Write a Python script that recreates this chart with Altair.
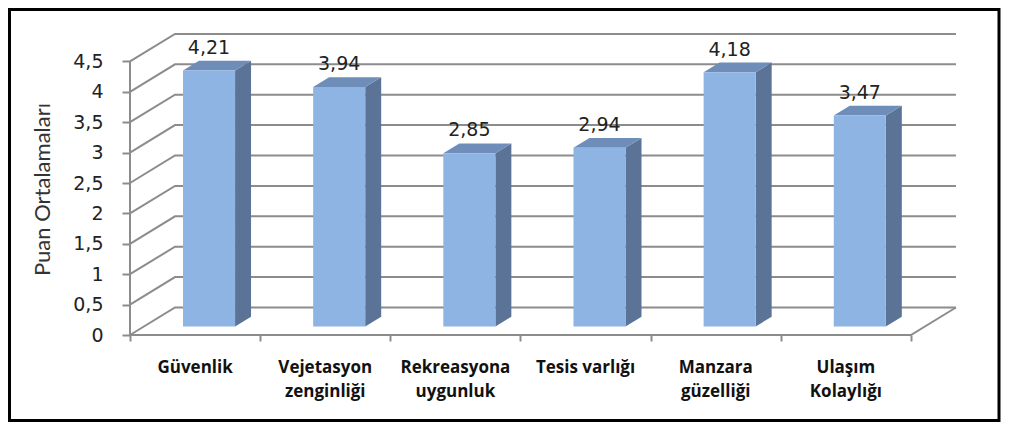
import altair as alt
import pandas as pd

# ---------------- data ----------------
CATEGORIES = ["Güvenlik", "Vejetasyon zenginliği", "Rekreasyona uygunluk",
              "Tesis varlığı", "Manzara güzelliği", "Ulaşım Kolaylığı"]
CATEGORY_LABELS = ["Güvenlik", "Vejetasyon\nzenginliği", "Rekreasyona\nuygunluk",
                   "Tesis varlığı", "Manzara\ngüzelliği", "Ulaşım\nKolaylığı"]
VALUES = [4.21, 3.94, 2.85, 2.94, 4.18, 3.47]
Y_TICKS = [0, 0.5, 1, 1.5, 2, 2.5, 3, 3.5, 4, 4.5]
Y_TITLE = "Puan Ortalamaları"

# ---------------- geometry (style) ----------------
W, H = 833, 304
X_MAX, Y_MAX = 6.4, 5.0
PX_X = W / X_MAX
PX_Y = H / Y_MAX
DX = 45 / PX_X          # depth shift in x units
DY = 27.5 / PX_Y        # depth shift in y units
F1, F2 = 0.31, 0.665    # bar front / back depth fractions
BAR_W = 0.4
N = len(CATEGORIES)
Y_TOP = max(Y_TICKS)

FRONT = "#8EB4E3"
TOP = "#6F8DB9"
SIDE = "#5A7397"
GRID = "#8C8C8C"

xs = alt.Scale(domain=[0, X_MAX], nice=False, zero=False)
ys = alt.Scale(domain=[0, Y_MAX], nice=False, zero=False)

XAX = alt.Axis(values=list(range(N + 1)), labels=False, ticks=True, tickSize=6,
               tickWidth=2, tickColor=GRID, domain=False, grid=False, title=None)
YAX = alt.Axis(values=Y_TICKS, tickSize=8, tickWidth=2, tickColor=GRID, domain=False,
               grid=False,
               labelExpr="replace(format(datum.value, '.1~f'), '.', ',')",
               labelFont="DejaVu Sans", labelFontSize=19, labelColor="#222222",
               labelPadding=19,
               title=Y_TITLE, titleFont="Lato", titleFontSize=22,
               titleFontWeight="normal", titleColor="#333333", titleAngle=270,
               titleAlign="center", titleBaseline="alphabetic",
               titleX=-81, titleY=158)

# ---------------- wall / floor lines ----------------
rows = []
for t in Y_TICKS:
    pts = [(0, t), (DX, t + DY), (N + DX, t + DY)]
    for k, (x, y) in enumerate(pts):
        rows.append({"seg": f"g{t}", "o": k, "px": x, "py": y})
for k, (x, y) in enumerate([(0, 0), (N, 0), (N + DX, DY)]):
    rows.append({"seg": "floor", "o": k, "px": x, "py": y})
for k, (x, y) in enumerate([(0, 0), (0, Y_TOP)]):
    rows.append({"seg": "yaxis", "o": k, "px": x, "py": y})
lines_df = pd.DataFrame(rows)

lines = alt.Chart(lines_df).mark_line(color=GRID, strokeWidth=2).encode(
    x=alt.X("px:Q", scale=xs, axis=XAX),
    y=alt.Y("py:Q", scale=ys, axis=YAX),
    detail="seg:N",
    order="o:Q",
)

# ---------------- bars ----------------
bars = pd.DataFrame({"name": CATEGORIES, "v": VALUES, "i": range(N)})
bars["xl"] = bars["i"] + 0.5 - BAR_W / 2 + F1 * DX
bars["xr"] = bars["xl"] + BAR_W
bars["yb"] = F1 * DY
bars["yt"] = bars["v"] + F1 * DY
bars["xc"] = bars["i"] + 0.5 + F1 * DX
bars["yl"] = bars["v"] + F2 * DY
bars["lbl"] = [f"{v:.2f}".replace(".", ",") for v in VALUES]

dd_x = (F2 - F1) * DX
dd_y = (F2 - F1) * DY

side_rows, top_rows = [], []
for r in bars.to_dict("records"):
    side_rows.append({"name": r["name"], "sx": r["xr"], "sy": r["yt"], "sy0": r["yb"]})
    side_rows.append({"name": r["name"], "sx": r["xr"] + dd_x,
                      "sy": r["yt"] + dd_y, "sy0": r["yb"] + dd_y})
    top_rows.append({"name": r["name"], "ty": r["yt"], "tx": r["xl"], "tx0": r["xr"]})
    top_rows.append({"name": r["name"], "ty": r["yt"] + dd_y,
                     "tx": r["xl"] + dd_x, "tx0": r["xr"] + dd_x})
side_df = pd.DataFrame(side_rows)
top_df = pd.DataFrame(top_rows)

side = alt.Chart(side_df).mark_area(color=SIDE, opacity=1).encode(
    x=alt.X("sx:Q", scale=xs, axis=XAX),
    y=alt.Y("sy:Q", scale=ys, axis=YAX, stack=None),
    y2="sy0:Q",
    detail="name:N",
)

top = alt.Chart(top_df).mark_area(orient="horizontal", color=TOP, opacity=1).encode(
    y=alt.Y("ty:Q", scale=ys, axis=YAX),
    x=alt.X("tx:Q", scale=xs, axis=XAX, stack=None),
    x2="tx0:Q",
    detail="name:N",
)

front = alt.Chart(bars).mark_rect(color=FRONT).encode(
    x=alt.X("xl:Q", scale=xs, axis=XAX),
    x2="xr:Q",
    y=alt.Y("yb:Q", scale=ys, axis=YAX),
    y2="yt:Q",
)

values_txt = alt.Chart(bars).mark_text(font="DejaVu Sans", fontSize=19, color="#222222",
                                       baseline="alphabetic", dy=-7).encode(
    x=alt.X("xc:Q", scale=xs, axis=XAX),
    y=alt.Y("yl:Q", scale=ys, axis=YAX),
    text="lbl:N",
)

cat_df = pd.DataFrame({"lab": CATEGORY_LABELS, "xc": [i + 0.5 for i in range(N)]})
cats_txt = alt.Chart(cat_df).mark_text(font="Open Sans", fontSize=17, fontWeight="bold",
                                       color="#111111", baseline="alphabetic",
                                       lineBreak="\n", lineHeight=24).encode(
    x=alt.X("xc:Q", scale=xs, axis=XAX),
    y=alt.value(342),
    text="lab:N",
)

frame = alt.Chart(pd.DataFrame({"a": [0]})).mark_rect(
    fillOpacity=0, stroke="black", strokeWidth=3).encode(
    x=alt.value(-120.5), x2=alt.value(869), y=alt.value(-21.5), y2=alt.value(389.5)
)

chart = alt.layer(lines, side, top, front, values_txt, cats_txt, frame).properties(
    width=W, height=H,
    padding={"left": 122, "top": 23, "right": 39, "bottom": 87},
    autosize=alt.AutoSizeParams(type="none"),
    background="white",
).configure_view(stroke=None)

chart.save("out.html", embed_options={"renderer": "svg", "actions": False})
